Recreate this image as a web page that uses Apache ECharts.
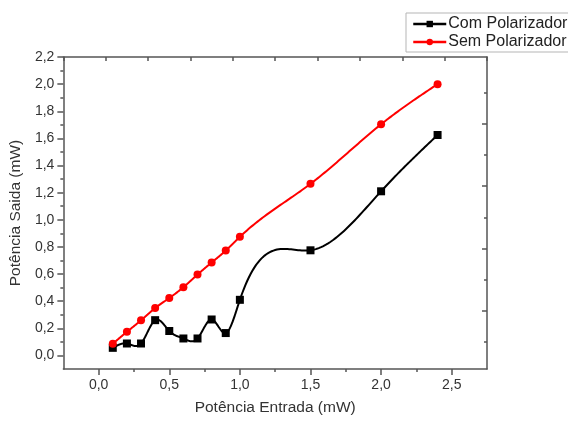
<!DOCTYPE html>
<html>
<head>
<meta charset="utf-8">
<script src="https://cdn.jsdelivr.net/npm/echarts@6/dist/echarts.min.js"></script>
<style>
html,body{margin:0;padding:0;background:#fff;}
#c{width:568px;height:421px;}
</style>
</head>
<body>
<div id="c"></div>
<script>
const xEntrada = [0.1, 0.2, 0.3, 0.4, 0.5, 0.6, 0.7, 0.8, 0.9, 1.0, 1.5, 2.0, 2.4];
const comPolarizador = [0.056, 0.088, 0.088, 0.26, 0.18, 0.125, 0.125, 0.265, 0.165, 0.41, 0.775, 1.21, 1.625];
const semPolarizador = [0.086, 0.174, 0.259, 0.349, 0.423, 0.503, 0.596, 0.685, 0.773, 0.874, 1.265, 1.704, 2.0];
const xMajorTicks = [0, 0.5, 1.0, 1.5, 2.0, 2.5];
const yMajorTicks = [0, 0.2, 0.4, 0.6, 0.8, 1.0, 1.2, 1.4, 1.6, 1.8, 2.0, 2.2];
const rightShortTicks = [0.86, 2.86, 4.86, 6.86, 8.86];
const rightLongTicks = [1.86, 3.86, 5.86, 7.86];
const names = ['Com Polarizador', 'Sem Polarizador'];
const colors = ['#000000', '#ff0000'];

const axisColor = '#555';
const textColor = '#333';
const font = 'Liberation Sans, Arial, sans-serif';
const fmt = v => v.toFixed(1).replace('.', ',');

// natural cubic spline (the way the original plot connects its points)
function splinePath(xs, ys, perSeg) {
  const n = xs.length;
  const h = [];
  for (let i = 0; i < n - 1; i++) h.push(xs[i + 1] - xs[i]);
  const a = new Array(n).fill(0), b = new Array(n).fill(1), c = new Array(n).fill(0), d = new Array(n).fill(0);
  for (let i = 1; i < n - 1; i++) {
    a[i] = h[i - 1];
    b[i] = 2 * (h[i - 1] + h[i]);
    c[i] = h[i];
    d[i] = 6 * ((ys[i + 1] - ys[i]) / h[i] - (ys[i] - ys[i - 1]) / h[i - 1]);
  }
  const cp = new Array(n).fill(0), dp = new Array(n).fill(0);
  cp[0] = c[0] / b[0]; dp[0] = d[0] / b[0];
  for (let i = 1; i < n; i++) {
    const m = b[i] - a[i] * cp[i - 1];
    cp[i] = c[i] / m;
    dp[i] = (d[i] - a[i] * dp[i - 1]) / m;
  }
  const M = new Array(n).fill(0);
  M[n - 1] = dp[n - 1];
  for (let i = n - 2; i >= 0; i--) M[i] = dp[i] - cp[i] * M[i + 1];
  const pts = [];
  for (let i = 0; i < n - 1; i++) {
    const hi = h[i];
    for (let k = 0; k < perSeg; k++) {
      const x = xs[i] + hi * k / perSeg;
      const A = xs[i + 1] - x, B = x - xs[i];
      const y = M[i] * A * A * A / (6 * hi) + M[i + 1] * B * B * B / (6 * hi)
        + (ys[i] / hi - M[i] * hi / 6) * A + (ys[i + 1] / hi - M[i + 1] * hi / 6) * B;
      pts.push([x, y]);
    }
  }
  pts.push([xs[n - 1], ys[n - 1]]);
  return pts;
}

function splineSeries(values, color) {
  return {
    type: 'custom', xAxisIndex: 0, yAxisIndex: 0, z: 1, silent: true,
    data: xEntrada.map((x, i) => [x, values[i]]),
    renderItem: (params, api) => {
      if (params.dataIndex !== 0) return null;
      const pts = splinePath(xEntrada, values, 40).map(p => api.coord(p));
      return {
        type: 'polyline',
        shape: {points: pts},
        style: {stroke: color, lineWidth: 2, fill: null}
      };
    }
  };
}

const chart = echarts.init(document.getElementById('c'), null, {renderer: 'canvas'});
const lineStyleAxis = {color: axisColor, width: 1.5};

chart.setOption({
  animation: false,
  backgroundColor: '#fff',
  grid: {left: 62, right: 81, top: 57, bottom: 49, containLabel: false},
  legend: {
    data: names.map((n, i) => ({name: n, lineStyle: {color: colors[i], width: 2.5, opacity: 1}})),
    orient: 'vertical',
    left: 406, top: 13,
    padding: [3, 6, 2, 6],
    itemGap: 2,
    itemWidth: 33,
    itemHeight: 8,
    borderColor: '#b5b5b5',
    borderWidth: 1,
    backgroundColor: '#fff',
    textStyle: {fontFamily: font, fontSize: 16, color: '#222', padding: [0, 0, 0, -3]}
  },
  xAxis: [
    {
      type: 'value', position: 'bottom', min: -0.25, max: 2.75, interval: 0.25,
      axisLine: {show: true, onZero: false, lineStyle: lineStyleAxis},
      axisTick: {show: true, inside: false, length: 3, lineStyle: lineStyleAxis},
      axisLabel: {
        show: true, margin: 9, fontFamily: font, fontSize: 14, color: textColor,
        showMinLabel: false, showMaxLabel: false,
        formatter: v => (Math.abs(v * 2 - Math.round(v * 2)) < 1e-6 ? fmt(v) : '')
      },
      splitLine: {show: false},
      name: 'Potência Entrada (mW)', nameLocation: 'middle', nameGap: 31,
      nameTextStyle: {fontFamily: font, fontSize: 15.5, color: textColor}
    },
    {
      type: 'value', position: 'bottom', min: -0.25, max: 2.75,
      axisLine: {show: false, onZero: false},
      axisTick: {show: true, inside: false, length: 6, customValues: xMajorTicks, lineStyle: lineStyleAxis},
      axisLabel: {show: false},
      splitLine: {show: false}
    },
    {
      type: 'value', position: 'top', min: 0, max: 10, interval: 1,
      axisLine: {show: true, onZero: false, lineStyle: lineStyleAxis},
      axisTick: {show: true, inside: true, length: 4, lineStyle: lineStyleAxis},
      axisLabel: {show: false},
      splitLine: {show: false}
    }
  ],
  yAxis: [
    {
      type: 'value', position: 'left', min: -0.1, max: 2.2, interval: 0.1,
      axisLine: {show: true, onZero: false, lineStyle: lineStyleAxis},
      axisTick: {show: true, inside: false, length: 3, lineStyle: lineStyleAxis},
      axisLabel: {
        show: true, margin: 9, fontFamily: font, fontSize: 14, color: textColor,
        showMinLabel: false,
        formatter: v => (Math.round(v * 10) % 2 === 0 ? fmt(v) : '')
      },
      splitLine: {show: false},
      name: 'Potência Saida (mW)', nameLocation: 'middle', nameGap: 36,
      nameTextStyle: {fontFamily: font, fontSize: 15.5, color: textColor}
    },
    {
      type: 'value', position: 'left', min: -0.1, max: 2.2,
      axisLine: {show: false, onZero: false},
      axisTick: {show: true, inside: false, length: 6, customValues: yMajorTicks, lineStyle: lineStyleAxis},
      axisLabel: {show: false},
      splitLine: {show: false}
    },
    {
      type: 'value', position: 'right', min: 0, max: 10,
      axisLine: {show: true, onZero: false, lineStyle: lineStyleAxis},
      axisTick: {show: true, inside: true, length: 3, customValues: rightShortTicks, lineStyle: lineStyleAxis},
      axisLabel: {show: false},
      splitLine: {show: false}
    },
    {
      type: 'value', position: 'right', min: 0, max: 10,
      axisLine: {show: false, onZero: false},
      axisTick: {show: true, inside: true, length: 5, customValues: rightLongTicks, lineStyle: lineStyleAxis},
      axisLabel: {show: false},
      splitLine: {show: false}
    }
  ],
  series: [
    splineSeries(comPolarizador, colors[0]),
    splineSeries(semPolarizador, colors[1]),
    {
      name: names[0], type: 'line', xAxisIndex: 0, yAxisIndex: 0, z: 3,
      data: xEntrada.map((x, i) => [x, comPolarizador[i]]),
      symbol: 'rect', symbolSize: 8,
      lineStyle: {color: colors[0], width: 2, opacity: 0},
      itemStyle: {color: colors[0]}
    },
    {
      name: names[1], type: 'line', xAxisIndex: 0, yAxisIndex: 0, z: 4,
      data: xEntrada.map((x, i) => [x, semPolarizador[i]]),
      symbol: 'circle', symbolSize: 8,
      lineStyle: {color: colors[1], width: 2, opacity: 0},
      itemStyle: {color: colors[1]}
    }
  ]
});
</script>
</body>
</html>
